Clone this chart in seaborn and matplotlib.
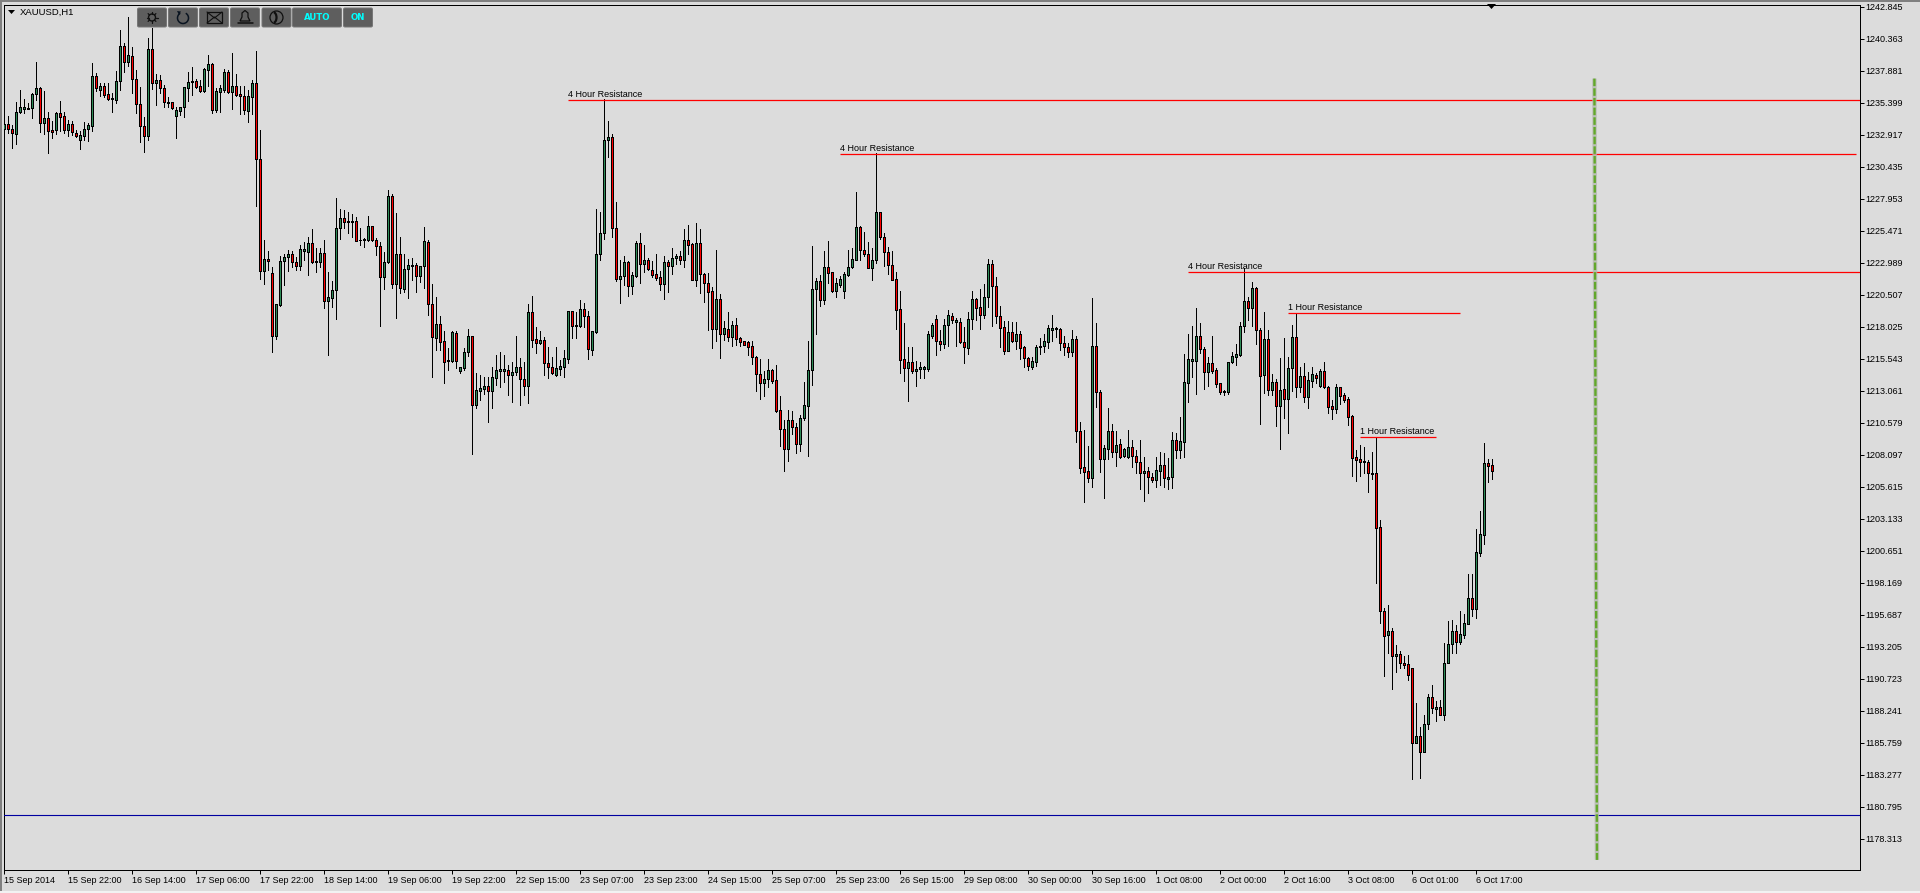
#!/usr/bin/env python3
# -*- coding: utf-8 -*-
import numpy as np
import pandas as pd
import seaborn as sns
import matplotlib
matplotlib.use('Agg')
import matplotlib.pyplot as plt
from matplotlib.patches import FancyBboxPatch, Rectangle, Circle, Arc, Polygon

# XAUUSD H1 candles. R = down bar, G = up bar
directions = ''.join([
    'GRRGGGGGGR', 'GRRGRRGRRG', 'GGGRGRRGGG', 'RGRRRRGRGR', 'RGRGGGGGRR',
    'GGRGGGRGRR', 'RGGRRGRRGG', 'GGRRGGGRGG', 'RGGGGRGGRG', 'GGRRRGGRGR',
    'GGGRGGRRGR', 'RGGRGGGRGG', 'GRGGGGRGGR', 'RGRRGRRRGG', 'GGRGGRRGGG',
    'GGRRGGRGGR', 'GRRRRGRGGR', 'GRRGRRRRGR', 'GRGRRRRRRR', 'GGRRRRGRRG',
    'GGGGRGRRGG', 'GGGGRRRGGR', 'RRRRRRGRGG', 'GGGRRGGRGR', 'RGGRRGGRRR',
    'RGRGRRRGGG', 'GGGGRRRGRR', 'RRGRRGGRGR', 'GGRRRGRRGG', 'RGGRGGGGGR',
    'RGRRRGGGGG', 'GRGRRGRGRG', 'RGGRGRGGRG', 'RRRGRRRRRR', 'GRGRRRGRGR',
    'RRRGRGGRGR', 'GGGRGGGRGG', 'GRR'])

highs = [
    1233.93, 1234.37, 1233.68, 1235.43, 1236.39, 1235.69, 1235.41, 1236.13, 1238.56, 1236.60,
    1236.31, 1234.71, 1234.01, 1234.71, 1235.54, 1234.71, 1234.06, 1233.99, 1233.29, 1233.21,
    1233.93, 1233.86, 1238.46, 1237.68, 1236.91, 1236.91, 1236.96, 1236.13, 1237.86, 1241.04,
    1240.01, 1242.03, 1239.75, 1237.94, 1236.60, 1234.32, 1240.40, 1241.17, 1237.63, 1237.55,
    1236.78, 1235.87, 1235.49, 1235.10, 1235.10, 1236.65, 1237.76, 1238.20, 1237.22, 1237.17,
    1238.12, 1239.10, 1238.51, 1236.52, 1236.78, 1238.02, 1237.94, 1239.29, 1237.63, 1236.70,
    1236.70, 1236.39, 1237.17, 1239.41, 1233.28, 1224.75, 1223.90, 1222.63, 1219.76, 1223.51,
    1223.64, 1223.98, 1223.90, 1223.46, 1224.36, 1224.62, 1225.01, 1225.60, 1224.10, 1224.10,
    1224.75, 1222.24, 1221.60, 1227.98, 1227.15, 1227.08, 1226.95, 1226.77, 1226.56, 1225.71,
    1224.88, 1226.61, 1225.86, 1224.88, 1224.62, 1223.85, 1228.63, 1228.29, 1226.82, 1224.98,
    1223.64, 1223.28, 1223.33, 1222.94, 1222.76, 1225.73, 1224.72, 1221.34, 1220.31, 1218.83,
    1217.72, 1216.35, 1217.72, 1217.72, 1214.93, 1216.35, 1217.85, 1217.28, 1214.41, 1214.28,
    1214.10, 1214.15, 1214.93, 1215.83, 1216.09, 1215.83, 1215.06, 1215.26, 1217.30, 1215.57,
    1215.31, 1219.76, 1220.41, 1218.03, 1217.69, 1217.25, 1216.42, 1215.70, 1216.42, 1215.44,
    1216.22, 1219.22, 1219.22, 1219.19, 1220.10, 1219.84, 1219.27, 1217.72, 1227.15, 1226.90,
    1235.66, 1233.98, 1232.97, 1227.67, 1223.20, 1223.53, 1223.15, 1222.24, 1224.65, 1225.27,
    1224.36, 1223.33, 1223.15, 1223.66, 1222.35, 1223.51, 1223.20, 1224.10, 1223.66, 1223.90,
    1225.60, 1225.91, 1224.49, 1226.04, 1225.60, 1222.22, 1222.16, 1221.08, 1223.97, 1220.56,
    1218.49, 1219.14, 1218.44, 1218.70, 1217.20, 1216.94, 1216.92, 1216.92, 1215.75, 1215.52,
    1214.62, 1215.52, 1214.75, 1215.06, 1212.65, 1210.79, 1211.57, 1211.49, 1210.53, 1211.18,
    1213.76, 1216.94, 1224.26, 1221.78, 1222.04, 1223.90, 1224.65, 1222.29, 1221.78, 1221.98,
    1222.24, 1223.97, 1224.10, 1228.47, 1225.84, 1225.34, 1224.62, 1224.10, 1231.47, 1226.95,
    1225.27, 1224.23, 1223.90, 1222.29, 1220.77, 1218.29, 1216.43, 1216.43, 1215.37, 1215.31,
    1214.98, 1217.69, 1218.34, 1218.93, 1217.77, 1218.60, 1219.32, 1219.11, 1218.67, 1218.67,
    1217.98, 1219.19, 1220.79, 1220.23, 1220.92, 1221.31, 1223.25, 1223.20, 1221.85, 1219.63,
    1218.47, 1218.47, 1218.36, 1218.36, 1217.69, 1216.53, 1215.70, 1215.65, 1216.61, 1217.12,
    1217.46, 1218.15, 1218.90, 1218.02, 1217.89, 1217.30, 1216.73, 1217.77, 1217.30, 1210.61,
    1210.01, 1208.80, 1220.22, 1218.28, 1213.11, 1208.85, 1211.72, 1210.48, 1209.96, 1209.29,
    1208.59, 1210.01, 1209.24, 1208.46, 1209.24, 1207.94, 1207.17, 1206.65, 1207.89, 1208.33,
    1208.20, 1207.81, 1209.88, 1209.75, 1211.04, 1215.90, 1217.46, 1218.08, 1219.47, 1218.28,
    1216.47, 1215.70, 1217.30, 1214.79, 1213.66, 1213.11, 1215.31, 1216.09, 1216.65, 1218.41,
    1222.55, 1220.35, 1221.46, 1221.13, 1217.89, 1219.16, 1217.77, 1214.35, 1213.94, 1215.62,
    1217.12, 1215.70, 1218.15, 1219.01, 1214.92, 1215.18, 1214.53, 1214.92, 1214.41, 1214.72,
    1215.31, 1213.42, 1212.34, 1213.55, 1213.37, 1212.90, 1212.54, 1211.17, 1208.46, 1208.82,
    1208.67, 1207.68, 1208.33, 1209.42, 1203.05, 1196.18, 1196.44, 1194.66, 1193.34, 1192.88,
    1192.49, 1192.57, 1191.53, 1188.82, 1186.96, 1187.91, 1189.54, 1190.24, 1189.02, 1189.07,
    1193.47, 1195.20, 1195.28, 1194.89, 1195.98, 1195.75, 1198.85, 1198.85, 1202.34, 1203.73,
    1209.01, 1207.77, 1207.77]

body_tops = [
    1233.73, 1233.73, 1233.34, 1234.66, 1235.05, 1235.05, 1234.97, 1236.05, 1236.52, 1236.52,
    1234.19, 1234.19, 1233.26, 1234.58, 1234.58, 1234.35, 1233.73, 1233.73, 1233.03, 1232.87,
    1233.34, 1233.65, 1237.45, 1237.45, 1236.67, 1236.67, 1236.05, 1235.74, 1237.06, 1239.78,
    1239.78, 1239.08, 1239.00, 1237.22, 1235.28, 1233.57, 1239.54, 1239.54, 1237.14, 1237.14,
    1236.52, 1235.43, 1235.43, 1234.81, 1235.05, 1236.60, 1237.01, 1237.06, 1237.09, 1236.67,
    1238.02, 1238.38, 1238.38, 1236.31, 1236.52, 1237.79, 1237.79, 1236.67, 1236.67, 1236.05,
    1235.90, 1235.90, 1236.93, 1236.93, 1231.01, 1223.25, 1223.25, 1222.17, 1219.76, 1223.10,
    1223.41, 1223.64, 1223.64, 1223.02, 1224.03, 1224.03, 1224.49, 1224.49, 1223.10, 1223.72,
    1223.72, 1220.30, 1220.85, 1225.66, 1226.43, 1226.43, 1226.20, 1226.20, 1226.20, 1224.78,
    1224.80, 1225.81, 1225.81, 1224.78, 1224.26, 1223.02, 1228.14, 1228.14, 1223.64, 1223.64,
    1222.47, 1222.79, 1222.81, 1222.79, 1222.71, 1224.65, 1224.57, 1219.81, 1218.21, 1218.21,
    1216.89, 1215.44, 1217.59, 1217.51, 1214.87, 1216.04, 1217.28, 1217.28, 1213.09, 1213.25,
    1213.40, 1213.40, 1214.10, 1214.64, 1214.72, 1214.75, 1214.64, 1214.49, 1214.87, 1214.87,
    1213.95, 1219.14, 1219.14, 1217.05, 1216.97, 1216.97, 1215.19, 1214.87, 1214.80, 1214.95,
    1215.57, 1219.22, 1219.22, 1218.13, 1219.37, 1219.37, 1218.88, 1217.67, 1223.64, 1225.27,
    1232.48, 1232.71, 1232.71, 1225.71, 1221.93, 1223.02, 1223.02, 1222.01, 1224.52, 1224.49,
    1223.17, 1223.17, 1222.40, 1222.09, 1221.85, 1223.02, 1223.02, 1223.33, 1223.48, 1223.48,
    1224.72, 1224.72, 1224.41, 1224.49, 1224.49, 1222.09, 1221.44, 1220.77, 1220.15, 1220.15,
    1217.90, 1217.82, 1218.13, 1218.13, 1217.12, 1216.89, 1216.81, 1216.50, 1215.70, 1214.33,
    1213.97, 1214.64, 1214.64, 1213.87, 1211.54, 1210.07, 1210.76, 1210.76, 1210.22, 1210.92,
    1211.93, 1214.64, 1220.92, 1221.54, 1221.54, 1222.63, 1222.63, 1222.24, 1221.39, 1221.70,
    1222.09, 1222.63, 1223.25, 1225.73, 1225.73, 1223.95, 1223.64, 1223.17, 1226.89, 1226.89,
    1224.96, 1223.79, 1222.78, 1221.70, 1219.37, 1215.50, 1215.26, 1215.26, 1214.75, 1214.87,
    1214.87, 1217.43, 1218.13, 1218.60, 1216.89, 1218.13, 1218.91, 1218.83, 1218.55, 1218.36,
    1216.81, 1218.60, 1220.15, 1220.15, 1219.53, 1220.30, 1222.86, 1222.86, 1221.16, 1218.83,
    1217.98, 1217.59, 1217.59, 1217.43, 1217.43, 1216.45, 1215.57, 1215.34, 1216.43, 1216.50,
    1216.89, 1217.89, 1217.89, 1217.89, 1217.82, 1216.73, 1216.42, 1217.04, 1217.04, 1209.91,
    1207.12, 1206.81, 1216.50, 1216.50, 1212.93, 1208.59, 1209.91, 1209.91, 1208.82, 1208.90,
    1208.56, 1208.67, 1208.67, 1207.97, 1207.50, 1206.83, 1206.81, 1206.34, 1206.88, 1207.27,
    1207.27, 1206.39, 1209.21, 1209.21, 1209.13, 1213.71, 1215.49, 1215.52, 1217.27, 1217.27,
    1216.27, 1215.18, 1215.18, 1214.64, 1213.63, 1213.04, 1215.26, 1215.72, 1215.88, 1218.05,
    1219.99, 1219.99, 1221.00, 1221.00, 1217.74, 1217.04, 1217.04, 1213.71, 1213.71, 1213.09,
    1213.16, 1214.79, 1217.20, 1217.20, 1214.17, 1214.17, 1213.86, 1214.33, 1214.25, 1214.56,
    1214.56, 1213.32, 1211.85, 1213.32, 1213.32, 1212.70, 1212.39, 1211.07, 1207.89, 1207.74,
    1207.58, 1207.53, 1206.65, 1206.65, 1202.47, 1196.00, 1194.40, 1194.40, 1192.62, 1192.62,
    1191.98, 1191.84, 1191.53, 1186.26, 1186.26, 1187.19, 1189.28, 1189.28, 1188.51, 1188.51,
    1191.98, 1193.39, 1194.40, 1194.40, 1194.17, 1195.02, 1196.96, 1196.96, 1200.53, 1201.92,
    1207.43, 1207.43, 1207.27]

body_bottoms = [
    1233.34, 1233.34, 1233.08, 1233.00, 1234.66, 1234.94, 1234.94, 1234.97, 1236.05, 1233.86,
    1233.86, 1233.19, 1233.16, 1233.26, 1234.32, 1233.31, 1233.31, 1233.16, 1232.82, 1232.49,
    1232.85, 1233.39, 1233.62, 1236.52, 1236.42, 1236.00, 1235.72, 1235.69, 1235.64, 1237.06,
    1238.59, 1238.59, 1237.22, 1235.28, 1233.57, 1232.85, 1232.85, 1236.91, 1236.96, 1236.52,
    1235.43, 1235.38, 1235.02, 1234.40, 1234.79, 1235.05, 1236.57, 1236.98, 1236.62, 1236.34,
    1236.34, 1237.97, 1234.87, 1234.87, 1236.26, 1236.39, 1236.26, 1236.21, 1236.03, 1235.90,
    1234.81, 1234.79, 1235.87, 1231.01, 1222.32, 1222.32, 1223.10, 1217.33, 1217.33, 1219.71,
    1223.10, 1223.41, 1223.02, 1222.71, 1222.71, 1223.92, 1223.85, 1223.02, 1223.02, 1223.07,
    1220.05, 1220.05, 1220.28, 1220.85, 1225.66, 1226.17, 1226.17, 1226.17, 1224.70, 1224.72,
    1224.72, 1224.72, 1224.75, 1224.26, 1221.91, 1221.91, 1223.02, 1221.31, 1221.31, 1221.00,
    1220.98, 1222.47, 1222.76, 1221.98, 1221.98, 1222.71, 1219.81, 1217.20, 1217.17, 1216.87,
    1215.31, 1215.34, 1215.39, 1215.39, 1214.62, 1214.85, 1216.04, 1211.93, 1211.93, 1213.07,
    1213.22, 1213.01, 1213.01, 1214.07, 1214.62, 1214.62, 1214.31, 1214.31, 1214.49, 1214.00,
    1213.46, 1213.46, 1217.02, 1216.79, 1216.76, 1215.19, 1214.87, 1214.46, 1214.28, 1214.77,
    1214.93, 1215.55, 1218.11, 1218.08, 1218.08, 1218.88, 1216.32, 1216.25, 1217.61, 1223.64,
    1225.27, 1232.48, 1225.71, 1221.75, 1221.75, 1221.98, 1221.21, 1221.21, 1221.98, 1222.86,
    1222.86, 1222.53, 1222.06, 1221.83, 1221.36, 1221.36, 1222.76, 1222.76, 1223.33, 1223.22,
    1223.22, 1224.39, 1221.67, 1221.67, 1222.09, 1221.44, 1220.74, 1217.87, 1217.87, 1217.43,
    1217.43, 1217.25, 1217.25, 1217.10, 1216.87, 1216.63, 1216.48, 1215.70, 1214.33, 1213.69,
    1213.69, 1213.94, 1213.84, 1211.51, 1210.07, 1208.57, 1208.57, 1210.22, 1208.90, 1208.90,
    1210.92, 1211.90, 1214.64, 1220.92, 1220.12, 1220.12, 1222.22, 1220.82, 1220.82, 1221.26,
    1220.82, 1222.06, 1222.63, 1223.22, 1223.95, 1223.64, 1222.60, 1222.60, 1223.17, 1224.96,
    1223.79, 1222.78, 1221.67, 1219.35, 1215.47, 1214.80, 1214.85, 1214.62, 1214.62, 1214.72,
    1214.77, 1214.77, 1217.33, 1216.89, 1216.66, 1216.66, 1218.13, 1218.52, 1218.36, 1216.81,
    1216.48, 1216.40, 1218.60, 1219.50, 1218.96, 1218.96, 1220.30, 1221.16, 1218.83, 1217.95,
    1216.17, 1216.17, 1216.94, 1216.94, 1216.37, 1215.57, 1215.00, 1214.87, 1215.31, 1216.42,
    1216.50, 1216.86, 1217.79, 1217.82, 1216.78, 1216.42, 1216.09, 1216.09, 1209.91, 1207.09,
    1206.78, 1206.26, 1206.26, 1212.93, 1207.74, 1207.74, 1208.56, 1208.28, 1208.28, 1207.94,
    1207.99, 1207.89, 1207.99, 1207.50, 1206.65, 1206.65, 1206.34, 1206.16, 1206.16, 1206.81,
    1206.26, 1206.24, 1206.39, 1208.43, 1208.43, 1209.11, 1213.68, 1215.39, 1215.39, 1216.27,
    1214.53, 1214.53, 1214.61, 1213.60, 1212.98, 1212.98, 1212.98, 1215.26, 1215.70, 1215.85,
    1218.05, 1219.50, 1219.50, 1217.74, 1214.22, 1214.28, 1213.14, 1213.14, 1211.90, 1211.90,
    1212.39, 1212.44, 1214.84, 1213.37, 1213.37, 1212.60, 1212.60, 1213.84, 1214.07, 1213.45,
    1213.32, 1211.82, 1211.67, 1211.67, 1212.67, 1212.36, 1211.05, 1207.87, 1207.71, 1207.56,
    1207.50, 1206.65, 1206.60, 1202.44, 1196.00, 1194.06, 1194.14, 1192.51, 1192.51, 1191.97,
    1191.80, 1191.04, 1185.77, 1185.77, 1185.07, 1185.07, 1187.19, 1188.43, 1188.40, 1187.94,
    1187.94, 1191.97, 1193.39, 1193.60, 1193.60, 1194.14, 1195.00, 1196.16, 1196.16, 1200.50,
    1201.90, 1207.25, 1206.86]

lows = [
    1233.08, 1233.03, 1231.92, 1232.23, 1234.58, 1234.58, 1234.89, 1234.24, 1235.62, 1233.16,
    1232.95, 1231.53, 1232.64, 1232.95, 1233.21, 1233.08, 1232.82, 1232.87, 1232.72, 1231.84,
    1232.51, 1232.46, 1233.21, 1236.34, 1235.92, 1235.87, 1235.59, 1234.71, 1235.36, 1236.39,
    1237.81, 1238.25, 1236.18, 1234.58, 1232.38, 1231.61, 1232.51, 1236.44, 1235.23, 1236.13,
    1235.05, 1235.10, 1234.89, 1232.69, 1234.45, 1234.32, 1235.56, 1236.00, 1236.57, 1236.23,
    1236.26, 1236.70, 1234.58, 1234.68, 1234.68, 1236.21, 1236.13, 1234.92, 1235.95, 1234.53,
    1234.50, 1233.93, 1234.50, 1227.42, 1221.73, 1221.36, 1222.42, 1216.09, 1217.10, 1219.63,
    1221.26, 1222.34, 1222.68, 1222.42, 1222.42, 1223.20, 1222.04, 1222.99, 1222.24, 1222.68,
    1219.48, 1215.83, 1219.58, 1218.63, 1224.83, 1225.66, 1225.27, 1225.01, 1224.67, 1224.36,
    1224.23, 1224.67, 1224.70, 1223.59, 1218.11, 1220.98, 1222.94, 1221.05, 1218.73, 1220.64,
    1220.72, 1220.28, 1221.65, 1220.74, 1221.52, 1221.03, 1218.93, 1214.15, 1216.22, 1216.22,
    1213.69, 1214.67, 1215.31, 1214.80, 1214.41, 1214.67, 1215.75, 1208.18, 1211.75, 1212.34,
    1212.78, 1210.66, 1211.75, 1213.50, 1213.37, 1213.76, 1212.73, 1212.21, 1214.28, 1211.98,
    1212.73, 1212.13, 1216.47, 1215.96, 1216.69, 1214.28, 1214.07, 1214.33, 1214.20, 1214.28,
    1214.15, 1215.24, 1217.17, 1217.17, 1218.03, 1218.03, 1215.50, 1215.83, 1217.56, 1223.20,
    1224.83, 1231.19, 1225.01, 1221.60, 1219.89, 1221.26, 1220.44, 1220.54, 1221.91, 1221.44,
    1222.29, 1222.42, 1221.91, 1221.65, 1220.87, 1220.17, 1220.74, 1222.11, 1222.86, 1222.86,
    1222.63, 1223.66, 1221.65, 1221.18, 1220.64, 1219.94, 1217.77, 1216.37, 1216.92, 1215.60,
    1216.99, 1216.94, 1216.53, 1216.61, 1216.53, 1216.61, 1215.83, 1215.11, 1213.04, 1212.42,
    1212.65, 1213.38, 1213.69, 1211.41, 1208.77, 1206.84, 1207.64, 1209.70, 1208.21, 1208.41,
    1210.79, 1208.02, 1213.50, 1217.46, 1219.66, 1219.76, 1221.39, 1220.74, 1220.35, 1221.13,
    1220.28, 1221.98, 1222.58, 1223.20, 1223.20, 1223.53, 1222.58, 1221.65, 1222.99, 1224.80,
    1222.76, 1222.11, 1221.65, 1217.85, 1214.46, 1213.84, 1212.29, 1214.46, 1213.45, 1214.02,
    1214.02, 1214.62, 1217.18, 1215.83, 1216.22, 1216.35, 1216.53, 1218.34, 1216.53, 1216.74,
    1215.24, 1215.88, 1217.85, 1218.55, 1217.85, 1218.67, 1219.58, 1218.11, 1218.34, 1216.48,
    1215.93, 1216.14, 1216.81, 1216.27, 1215.55, 1214.87, 1214.67, 1214.77, 1214.98, 1215.90,
    1216.09, 1216.40, 1216.94, 1217.25, 1216.22, 1215.83, 1215.65, 1215.78, 1209.11, 1206.65,
    1204.40, 1206.00, 1205.62, 1211.77, 1206.78, 1204.76, 1207.74, 1207.94, 1207.24, 1207.87,
    1207.94, 1207.81, 1207.14, 1206.70, 1205.46, 1204.53, 1205.15, 1206.00, 1205.62, 1205.72,
    1205.62, 1205.41, 1205.51, 1207.87, 1207.87, 1207.94, 1212.21, 1214.15, 1212.80, 1215.96,
    1213.19, 1213.45, 1214.46, 1213.37, 1212.78, 1212.73, 1212.80, 1215.18, 1215.05, 1215.78,
    1217.64, 1218.54, 1218.08, 1216.68, 1210.45, 1212.87, 1212.73, 1212.73, 1210.35, 1208.54,
    1210.92, 1209.80, 1213.04, 1212.60, 1212.98, 1212.16, 1211.74, 1213.37, 1213.68, 1213.37,
    1213.27, 1211.30, 1210.86, 1211.30, 1212.05, 1212.21, 1210.40, 1206.44, 1206.06, 1206.44,
    1206.65, 1205.20, 1206.21, 1198.12, 1195.07, 1190.96, 1192.75, 1189.95, 1191.27, 1191.58,
    1191.56, 1190.65, 1182.97, 1185.77, 1183.05, 1185.07, 1186.83, 1188.07, 1187.47, 1187.94,
    1187.52, 1191.97, 1192.75, 1192.75, 1193.44, 1193.91, 1195.00, 1195.62, 1195.46, 1200.27,
    1201.20, 1206.01, 1206.24]

price_ticks = [1242.845, 1240.363, 1237.881, 1235.399, 1232.917, 1230.435, 1227.953, 1225.471, 1222.989,
               1220.507, 1218.025, 1215.543, 1213.061, 1210.579, 1208.097, 1205.615, 1203.133, 1200.651,
               1198.169, 1195.687, 1193.205, 1190.723, 1188.241, 1185.759, 1183.277, 1180.795, 1178.313]
date_labels = ['15 Sep 2014', '15 Sep 22:00', '16 Sep 14:00', '17 Sep 06:00', '17 Sep 22:00', '18 Sep 14:00',
               '19 Sep 06:00', '19 Sep 22:00', '22 Sep 15:00', '23 Sep 07:00', '23 Sep 23:00', '24 Sep 15:00',
               '25 Sep 07:00', '25 Sep 23:00', '26 Sep 15:00', '29 Sep 08:00', '30 Sep 00:00', '30 Sep 16:00',
               '1 Oct 08:00', '2 Oct 00:00', '2 Oct 16:00', '3 Oct 08:00', '6 Oct 01:00', '6 Oct 17:00']
date_step = 16

# drawn resistance levels
res_labels = ['4 Hour Resistance', '4 Hour Resistance', '4 Hour Resistance', '1 Hour Resistance', '1 Hour Resistance']
res_prices = [1235.59, 1231.40, 1222.25, 1219.07, 1209.45]
res_start = [141, 209, 296, 321, 339]
res_end = [464, 463, 464, 364, 358]
support_price = 1180.13
trend_bars = [397.6, 398.25]
trend_prices = [1237.27, 1176.67]

BG = '#DCDCDC'
FONT = 'Liberation Sans'
W, H = 1920, 893

sns.set_style('ticks')
plt.rcParams['font.family'] = [FONT, 'DejaVu Sans']
plt.rcParams['font.size'] = 6.5

fig = plt.figure(figsize=(W / 100, H / 100), dpi=100, facecolor=BG)
# bar centres fall on whole pixels so the snapped body outlines stay 3 px wide
ax = fig.add_axes([4.0 / W, 1 - 869.8 / H, 1856 / W, (869.8 - 4.5) / H], facecolor=BG)

n = len(highs)
bars = np.arange(n)
tops = np.array(body_tops)
bottoms = np.array(body_bottoms)

# wicks, one short line per bar
wicks = pd.DataFrame({'bar': np.r_[bars, bars], 'price': np.r_[highs, lows]})
sns.lineplot(data=wicks, x='bar', y='price', units='bar', estimator=None, color='black',
             linewidth=0.72, legend=False, antialiased=False, ax=ax, zorder=2)

# bodies
body_colors = ['#2E8B57' if d == 'G' else '#FF0000' for d in directions]
ax.bar(bars, tops - bottoms, bottom=bottoms, width=0.5, color=body_colors, edgecolor='black',
       linewidth=0.72, antialiased=False, zorder=3)

for label, price, start, end in zip(res_labels, res_prices, res_start, res_end):
    ax.plot([start, end], [price, price], color='#FF0000', lw=0.9, zorder=4, solid_capstyle='butt')
    ax.annotate(label, (start, price), xytext=(0, 1.2), textcoords='offset points',
                fontsize=6.5, va='bottom', ha='left', color='black', zorder=5)

ax.axhline(support_price, color='#0000A0', lw=0.8, zorder=4)

# hand drawn green line, soft grey shadow under it
ax.plot(trend_bars, trend_prices, color='#B4B8B0', lw=3.2, zorder=4, alpha=0.8, solid_capstyle='butt')
ax.plot(trend_bars, trend_prices, color='#62A82A', lw=1.7, zorder=5, dashes=(3.2, 0.9), dash_capstyle='butt')

ax.set_xlim(0, 464)
ax.set_ylim(1243.365 - 0.07756 * 869.8, 1243.365 - 0.07756 * 4.5)
ax.set_xlabel('')
ax.set_ylabel('')

ax.yaxis.tick_right()
ax.set_yticks(price_ticks)
ax.set_yticklabels([f'{p:.3f}' for p in price_ticks])
ax.set_xticks(np.arange(len(date_labels)) * date_step)
ax.set_xticklabels(date_labels, ha='left')
ax.tick_params(axis='both', length=3, width=0.72, color='black', labelsize=6.5, labelcolor='black', pad=0.6)
ax.tick_params(axis='x', pad=1.6)
for side in ['top', 'bottom', 'left', 'right']:
    ax.spines[side].set_visible(True)
    ax.spines[side].set_color('black')
    ax.spines[side].set_linewidth(0.72)

# terminal chrome on a full figure overlay, in pixels
ui = fig.add_axes([0, 0, 1, 1], facecolor='none', zorder=10)
ui.set_xlim(0, W)
ui.set_ylim(H, 0)
ui.axis('off')
ui.add_patch(Rectangle((0, 0), W, 2, color='#808080', lw=0))
ui.add_patch(Rectangle((0, 0), 2, 891, color='#808080', lw=0))
ui.add_patch(Rectangle((0, 891), W, 2, color='#F2F2F2', lw=0))
ui.text(20, 12, 'XAUUSD,H1', fontsize=6.8, va='center', ha='left', color='black')
ui.add_patch(Polygon([[8, 10], [15, 10], [11.5, 14]], color='black', lw=0))
ui.add_patch(Polygon([[1487, 4], [1496, 4], [1491.5, 9]], color='black', lw=0))

buttons = [(137.5, 29), (168.5, 29), (199.5, 29), (230.5, 29), (262, 29), (292.5, 49), (343.5, 29)]
for bx, bw in buttons:
    ui.add_patch(FancyBboxPatch((bx + 1, 9), bw - 2, 17, boxstyle='round,pad=1,rounding_size=1.5',
                                fc='#5E5E5E', ec='#767676', lw=0.7))
ink = '#101010'
# gear
ui.add_patch(Circle((152, 17.5), 3.5, fc='none', ec=ink, lw=1))
for a in np.arange(0, 2 * np.pi, np.pi / 4):
    ui.plot([152 + 3.5 * np.cos(a), 152 + 5.5 * np.cos(a)], [17.5 + 3.5 * np.sin(a), 17.5 + 5.5 * np.sin(a)], color=ink, lw=0.9)
# refresh
ui.add_patch(Arc((183, 18), 11, 11, theta1=-60, theta2=240, color='#0A1420', lw=1.1))
ui.add_patch(Polygon([[177, 11], [181, 11.5], [179, 15]], color='#0A1420', lw=0))
# envelope
ui.add_patch(Rectangle((207, 12), 15, 11, fc='none', ec=ink, lw=0.9))
ui.plot([207, 214.5, 222], [12, 18, 12], color=ink, lw=0.8)
ui.plot([207, 214.5, 222], [23, 17, 23], color=ink, lw=0.8)
# bell
ui.add_patch(Polygon([[240, 21], [242, 17], [242, 13], [245, 10.5], [248, 13], [248, 17], [250, 21]],
                     fc='none', ec=ink, lw=0.9))
ui.plot([238, 253], [23, 23], color=ink, lw=1.1)
# phone in a ring
ui.add_patch(Circle((276.5, 17.5), 6.5, fc='none', ec=ink, lw=0.9))
ui.add_patch(Arc((273, 17.5), 7, 11, theta1=-80, theta2=80, color=ink, lw=1.6))
ui.text(317, 17.7, 'AUTO', fontsize=6.2, fontweight='bold', family='DejaVu Sans', color='#00FFFF', ha='center', va='center')
ui.text(358, 17.7, 'ON', fontsize=6.2, fontweight='bold', family='DejaVu Sans', color='#00FFFF', ha='center', va='center')

fig.savefig('out.png', dpi=100, facecolor=BG)
print(n, len(directions), len(body_tops), len(body_bottoms), len(lows))
